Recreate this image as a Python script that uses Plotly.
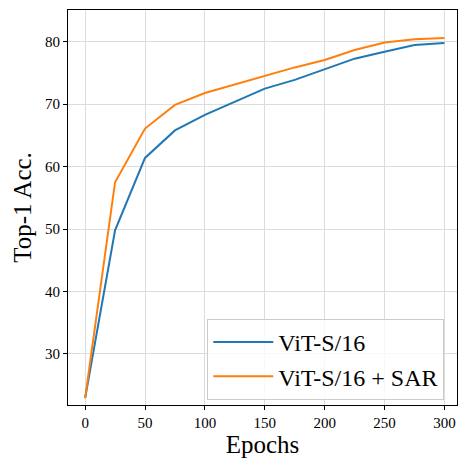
import plotly.graph_objects as go

epochs = [0, 25, 50, 75, 100, 125, 150, 175, 200, 225, 250, 275, 300]
vit = [22.9, 49.8, 61.4, 65.8, 68.3, 70.4, 72.5, 73.9, 75.6, 77.3, 78.4, 79.5, 79.8]
vit_sar = [22.9, 57.5, 66.1, 69.9, 71.8, 73.2, 74.6, 75.9, 77.1, 78.7, 79.9, 80.4, 80.6]

font = "Liberation Serif, Times New Roman, serif"

fig = go.Figure()
fig.add_trace(go.Scatter(x=epochs, y=vit, mode="lines", name="ViT-S/16",
                         line=dict(color="#1f77b4", width=2)))
fig.add_trace(go.Scatter(x=epochs, y=vit_sar, mode="lines", name="ViT-S/16 + SAR",
                         line=dict(color="#ff7f0e", width=2)))

fig.update_layout(
    width=458, height=458,
    margin=dict(l=68, r=1, t=10, b=53),
    paper_bgcolor="white", plot_bgcolor="white",
    font=dict(family=font, color="black", size=15),
    showlegend=True,
    legend=dict(x=0.358, y=0.218, xanchor="left", yanchor="top",
                bgcolor="rgba(255,255,255,0.8)", bordercolor="#cccccc", borderwidth=1,
                font=dict(family=font, size=24, color="black"),
                itemwidth=60, tracegroupgap=0),
)
fig.update_xaxes(range=[-14.3, 310.5], tickmode="array", tickvals=[0, 50, 100, 150, 200, 250, 300],
                 showgrid=True, gridcolor="#dcdcdc", gridwidth=1,
                 showline=True, linecolor="black", linewidth=1, mirror=True,
                 ticks="outside", ticklen=4, tickcolor="black",
                 title=dict(text="Epochs", font=dict(family=font, size=25), standoff=2),
                 zeroline=False)
fig.update_yaxes(range=[21.8, 85.1], tickmode="array", tickvals=[30, 40, 50, 60, 70, 80],
                 showgrid=True, gridcolor="#dcdcdc", gridwidth=1,
                 showline=True, linecolor="black", linewidth=1, mirror=True,
                 ticks="outside", ticklen=4, tickcolor="black",
                 title=dict(text="Top-1 Acc.", font=dict(family=font, size=25), standoff=6),
                 zeroline=False)

fig.write_html("out.html", config={"displayModeBar": False},
               post_script="document.body.style.margin='0';")
